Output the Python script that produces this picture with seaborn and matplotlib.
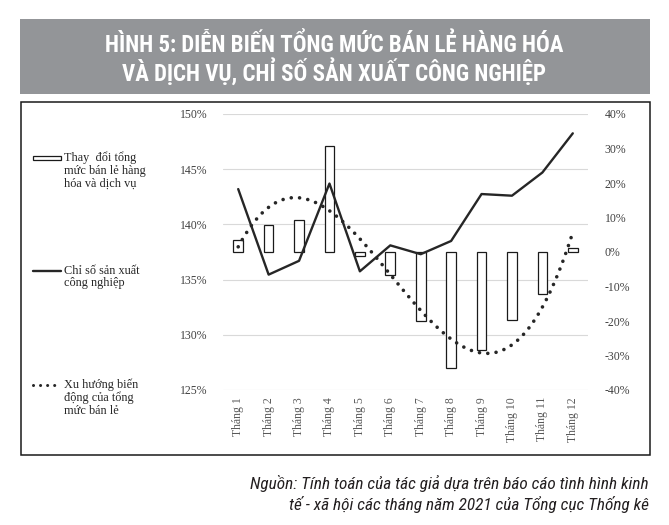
import numpy as np
import pandas as pd
import matplotlib
matplotlib.use("Agg")
import matplotlib.pyplot as plt
from matplotlib.lines import Line2D
from matplotlib.patches import Rectangle
import seaborn as sns

# DATA
months = ["Tháng 1", "Tháng 2", "Tháng 3", "Tháng 4", "Tháng 5", "Tháng 6",
          "Tháng 7", "Tháng 8", "Tháng 9", "Tháng 10", "Tháng 11", "Tháng 12"]
# change of total retail sales of goods and services (right axis, %)
retail_change = [3.6, 7.9, 9.2, 30.6, -1.1, -6.6, -19.9, -33.7, -28.5, -19.6, -12.3, 1.2]
# industrial production index (left axis, %)
iip_index = [143.2, 135.45, 136.7, 143.7, 135.75, 138.1, 137.3, 138.5, 142.75, 142.6, 144.7, 148.25]
left_ticks = [125, 130, 135, 140, 145, 150]
right_ticks = [-40, -30, -20, -10, 0, 10, 20, 30, 40]

title = "HÌNH 5: DIỄN BIẾN TỔNG MỨC BÁN LẺ HÀNG HÓA\nVÀ DỊCH VỤ, CHỈ SỐ SẢN XUẤT CÔNG NGHIỆP"
source = "Nguồn: Tính toán của tác giả dựa trên báo cáo tình hình kinh\ntế - xã hội các tháng năm 2021 của Tổng cục Thống kê"
legend_labels = ["Thay  đổi tổng\nmức bán lẻ hàng\nhóa và dịch vụ",
                 "Chỉ số sản xuất\ncông nghiệp",
                 "Xu hướng biến\nđộng của tổng\nmức bán lẻ"]

df = pd.DataFrame({"thang": months, "ban_le": retail_change, "iip": iip_index,
                   "pos": np.arange(len(months))})

sns.set_theme(style="white")
plt.rcParams["font.family"] = ["Liberation Serif", "DejaVu Serif"]
narrow = ["Roboto Condensed", "Open Sans Condensed", "Noto Sans Condensed",
          "Roboto", "DejaVu Sans"]

W, H = 669, 525
fig = plt.figure(figsize=(W / 100, H / 100), dpi=100)

def fx(px):
    return px / W

def fy(py):
    return 1 - py / H

# grey title banner + chart frame
fig.add_artist(Rectangle((fx(20), fy(94.5)), fx(630), (94.5 - 19) / H,
                         transform=fig.transFigure, color="#939598", lw=0))
fig.add_artist(Rectangle((fx(20.5), fy(455)), fx(629), (455 - 101.5) / H,
                         transform=fig.transFigure, fill=False, ec="#1a1a1a", lw=1.1))
fig.text(fx(334), fy(60), title, ha="center", va="center", color="white",
         fontsize=16.5, fontweight="bold", linespacing=1.05, family=narrow)
fig.text(fx(649), fy(494), source, ha="right", va="center", color="#231f20",
         fontsize=12.4, style="italic", linespacing=1.35, family=narrow)

# axes: ax = left scale + grid, ax2 = bars/trend (right scale), ax3 = IIP line on top
ax = fig.add_axes([fx(223), fy(390), fx(588) - fx(223), (390 - 114) / H])
ax2 = ax.twinx()
ax3 = ax.twinx()

sns.barplot(data=df, x="thang", y="ban_le", ax=ax2, color="white",
            edgecolor="#1a1a1a", linewidth=0.9, width=0.32, saturation=1)
sns.regplot(data=df, x="pos", y="ban_le", ax=ax2, order=3, ci=None, scatter=False,
            line_kws=dict(color="#262626", lw=2.6, ls=(0, (0.01, 2.3)),
                          dash_capstyle="round"))
sns.lineplot(data=df, x="pos", y="iip", ax=ax3, color="#262626", lw=1.7)

ax.set_ylim(125, 150)
ax.set_yticks(left_ticks, [f"{t}%" for t in left_ticks])
ax.grid(axis="y", color="#d9d9d9", lw=0.8)
ax.grid(axis="x", visible=False)
ax2.set_ylim(-40, 40)
ax2.set_yticks(right_ticks, [f"{t}%" for t in right_ticks])
ax3.set_ylim(125, 150)
ax3.yaxis.set_visible(False)
ax.set_xlim(-0.5, len(months) - 0.5)
ax.set_xticks(np.arange(len(months)), months)

for a in (ax, ax2, ax3):
    a.set_xlabel("")
    a.set_ylabel("")
    for s in a.spines.values():
        s.set_visible(False)
ax.tick_params(axis="y", length=0, pad=11, labelsize=8.5, labelcolor="#404040")
ax2.tick_params(axis="y", length=0, pad=12, labelsize=8.5, labelcolor="#404040")
ax.tick_params(axis="x", length=0, pad=5, labelsize=8.5, labelcolor="#595959",
               labelrotation=90)

# legend drawn at the left of the frame (handle next to first line of each label)
leg_y = [158, 271, 385]
for i, (y, lab) in enumerate(zip(leg_y, legend_labels)):
    if i == 0:
        fig.add_artist(Rectangle((fx(33), fy(y + 2.3)), fx(28), 4.6 / H,
                                 transform=fig.transFigure, fc="white",
                                 ec="#1a1a1a", lw=0.9))
    elif i == 1:
        fig.add_artist(Line2D([fx(33), fx(61)], [fy(y), fy(y)],
                              transform=fig.transFigure, color="#262626", lw=1.7))
    else:
        fig.add_artist(Line2D([fx(33), fx(61)], [fy(y), fy(y)],
                              transform=fig.transFigure, color="#262626", lw=2.2,
                              ls=(0, (0.01, 2.3)), dash_capstyle="round"))
    fig.text(fx(64), fy(y - 6.5), lab, ha="left", va="top", fontsize=8.8,
             color="#262626", linespacing=1.08)

fig.savefig("out.png", dpi=100)
